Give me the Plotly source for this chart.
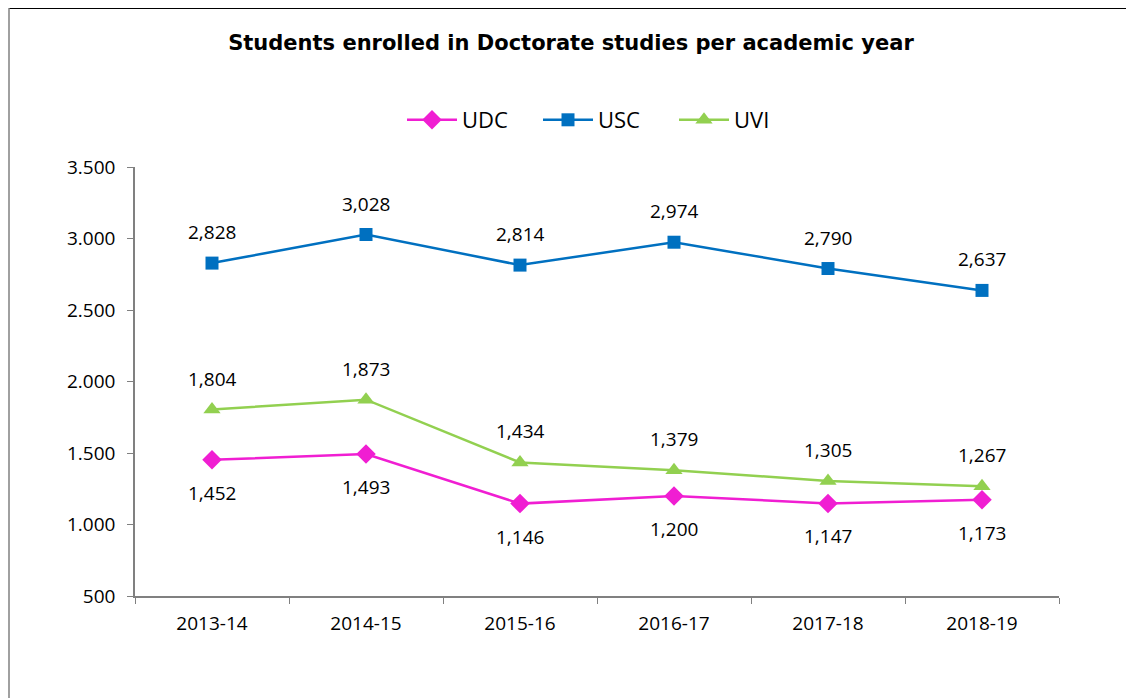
import plotly.graph_objects as go

years = ["2013-14", "2014-15", "2015-16", "2016-17", "2017-18", "2018-19"]
udc = [1452, 1493, 1146, 1200, 1147, 1173]
usc = [2828, 3028, 2814, 2974, 2790, 2637]
uvi = [1804, 1873, 1434, 1379, 1305, 1267]

# page body has an 8px margin, so the figure is shifted by that much
OFF = 8
W, H = 1134 - OFF, 698 - OFF
L, T = 135 - OFF, 167 - OFF
R = W - (1059 - OFF)
B = H - (596 - OFF)

FONT = "Open Sans, Liberation Sans, sans-serif"

fig = go.Figure()
series = [
    ("UDC", udc, "#F01ED2", "diamond", 15, -33),
    ("USC", usc, "#0070C0", "square", 13, 31),
    ("UVI", uvi, "#92D050", "triangle-up", 15, 31),
]
for name, vals, col, sym, sz, shift in series:
    fig.add_trace(go.Scatter(
        x=years, y=vals, name=name, mode="lines+markers",
        line=dict(color=col, width=2.5),
        marker=dict(symbol=sym, size=sz, color=col),
        cliponaxis=False,
    ))
    # data labels, Excel-style offset above / below the points
    for yr, v in zip(years, vals):
        fig.add_annotation(x=yr, y=v, text=f"{v:,}", showarrow=False, yshift=shift,
                           font=dict(size=19, color="#000000", family=FONT))

# frame lines on top and left edge (page coords)
px = lambda x: (x - OFF - L) / (W - L - R)
py = lambda y: 1 - (y - OFF - T) / (H - T - B)
fig.add_shape(type="line", xref="paper", yref="paper", x0=px(OFF + 1), x1=px(1140), y0=py(8), y1=py(8),
              line=dict(color="#000000", width=2))
fig.add_shape(type="line", xref="paper", yref="paper", x0=px(OFF + 1), x1=px(OFF + 1), y0=py(8), y1=py(710),
              line=dict(color="#808080", width=1.5))

fig.update_layout(
    width=W, height=H,
    margin=dict(l=L, r=R, t=T, b=B),
    paper_bgcolor="white", plot_bgcolor="white",
    separators=",.",
    font=dict(family=FONT, color="#000000", size=19),
    title=dict(text="<b>Students enrolled in Doctorate studies per academic year</b>",
               x=0.5, xref="container", xanchor="center", y=1 - (43 - OFF) / H, yanchor="middle",
               font=dict(family="DejaVu Sans, Verdana, sans-serif", size=21)),
    legend=dict(orientation="h", x=px(402), xanchor="left", xref="paper",
                y=py(120), yanchor="middle",
                font=dict(size=22), itemwidth=50, entrywidth=71, entrywidthmode="pixels",
                traceorder="normal"),
    showlegend=True,
)
fig.update_xaxes(range=[-0.5, len(years) - 0.5], showline=True, linecolor="#808080", linewidth=1.5,
                 ticks="outside", tickson="boundaries", ticklen=6, tickcolor="#808080",
                 showgrid=False, tickfont=dict(size=19), ticklabelstandoff=9)
fig.update_yaxes(range=[500, 3500], dtick=500, showline=True, linecolor="#808080", linewidth=1.5,
                 ticks="outside", ticklen=6, tickcolor="#808080", showgrid=False,
                 separatethousands=True, tickfont=dict(size=19), zeroline=False,
                 ticklabelstandoff=8)

fig.write_html("out.html")
